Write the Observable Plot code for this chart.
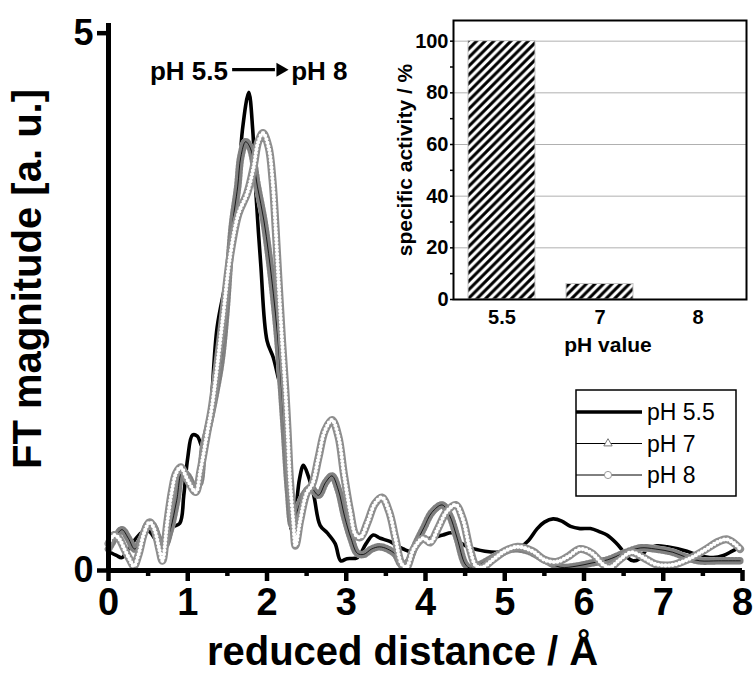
<!DOCTYPE html>
<html><head><meta charset="utf-8">
<script src="https://cdn.jsdelivr.net/npm/d3@7"></script>
<script src="https://cdn.jsdelivr.net/npm/@observablehq/plot@0.6"></script>
<style>
body{margin:0;background:#fff;font-family:"Liberation Sans",Arial,sans-serif}
#wrap{position:relative;width:755px;height:677px;overflow:hidden;background:#fff}
#wrap > svg{position:absolute}
</style></head><body><div id="wrap"></div>
<script>
// ---------- data ----------
const seriesNames = ["pH 5.5", "pH 7", "pH 8"];
const xTicks = [0, 1, 2, 3, 4, 5, 6, 7, 8];
const xMinor = [0.5, 1.5, 2.5, 3.5, 4.5, 5.5, 6.5, 7.5];
const yTicks = [0, 5];
const xTitle = "reduced distance / Å";
const yTitle = "FT magnitude [a. u.]";

// pH 5.5 (solid black)
const r55 = [0.02,0.1,0.17,0.25,0.35,0.45,0.52,0.6,0.68,0.75,0.8,0.9,0.95,1.0,1.06,1.12,1.19,1.24,1.29,1.37,1.5,1.63,1.69,1.77,1.82,1.85,1.92,2.0,2.08,2.14,2.21,2.25,2.31,2.36,2.41,2.46,2.52,2.59,2.67,2.76,2.86,2.93,3.01,3.14,3.25,3.34,3.43,3.55,3.64,3.72,3.82,3.97,4.12,4.22,4.34,4.44,4.57,4.75,4.9,5.05,5.2,5.3,5.41,5.5,5.61,5.72,5.83,5.95,6.08,6.2,6.29,6.4,6.46,6.55,6.62,6.7,6.8,6.92,7.05,7.3,7.45,7.63,7.76,7.87,7.95];
const v55 = [0.17,0.14,0.12,0.2,0.3,0.37,0.36,0.28,0.22,0.33,0.40,0.44,0.7,1.05,1.26,1.25,1.14,1.3,1.52,2.26,2.77,3.47,4.1,4.45,4.1,3.63,2.86,2.14,1.98,1.8,1.58,1.0,0.38,0.55,0.85,0.98,0.88,0.7,0.42,0.35,0.25,0.09,0.11,0.12,0.25,0.33,0.3,0.27,0.23,0.2,0.18,0.28,0.31,0.33,0.35,0.26,0.21,0.18,0.17,0.19,0.22,0.28,0.39,0.45,0.48,0.46,0.41,0.39,0.39,0.36,0.33,0.26,0.21,0.12,0.09,0.11,0.2,0.23,0.22,0.18,0.14,0.12,0.14,0.18,0.21];

// pH 7 (triangles)
const r7 = [0.0,0.08,0.17,0.25,0.33,0.42,0.5,0.56,0.63,0.7,0.78,0.86,0.93,1.0,1.08,1.14,1.2,1.28,1.35,1.42,1.48,1.56,1.63,1.67,1.73,1.79,1.88,1.96,2.02,2.08,2.13,2.17,2.22,2.27,2.32,2.38,2.46,2.55,2.65,2.74,2.82,2.9,2.98,3.06,3.14,3.22,3.32,3.42,3.52,3.62,3.7,3.78,3.88,3.98,4.08,4.21,4.3,4.4,4.5,4.57,4.7,4.9,5.1,5.3,5.5,5.7,5.9,6.1,6.3,6.5,6.71,6.9,7.12,7.3,7.46,7.7,7.97];
const v7 = [0.2,0.3,0.38,0.3,0.2,0.3,0.43,0.42,0.3,0.22,0.38,0.65,0.92,0.88,0.78,0.8,1.15,1.4,1.65,1.95,2.39,3.19,3.57,3.85,3.99,3.93,3.57,3.26,2.95,2.58,2.21,1.83,1.3,0.75,0.42,0.55,0.7,0.77,0.7,0.82,0.88,0.75,0.5,0.3,0.16,0.15,0.2,0.22,0.2,0.15,0.05,0.08,0.25,0.4,0.54,0.61,0.52,0.3,0.06,0.02,0.06,0.14,0.2,0.18,0.1,0.03,0.04,0.07,0.1,0.16,0.21,0.2,0.17,0.12,0.09,0.09,0.09];

// pH 8 (circles)
const r8 = [0.0,0.07,0.13,0.2,0.27,0.32,0.38,0.45,0.52,0.58,0.64,0.68,0.74,0.8,0.85,0.91,1.0,1.1,1.16,1.25,1.3,1.35,1.44,1.54,1.64,1.75,1.83,1.89,1.95,2.02,2.07,2.11,2.15,2.19,2.23,2.26,2.29,2.33,2.36,2.42,2.5,2.57,2.65,2.73,2.82,2.9,2.97,3.05,3.12,3.18,3.27,3.36,3.45,3.54,3.62,3.7,3.76,3.85,3.97,4.06,4.15,4.27,4.38,4.47,4.56,4.64,4.72,4.85,5.0,5.16,5.35,5.5,5.65,5.8,5.95,6.1,6.25,6.33,6.45,6.6,6.75,6.9,7.1,7.3,7.5,7.7,7.8,7.9,7.97];
const v8 = [0.25,0.33,0.3,0.2,0.1,0.04,0.15,0.35,0.45,0.38,0.2,0.09,0.44,0.74,0.9,0.96,0.84,0.73,0.93,1.3,1.5,1.77,2.33,2.95,3.32,3.51,3.75,3.99,4.07,3.94,3.63,3.17,2.64,2.14,1.7,1.3,0.84,0.47,0.23,0.47,0.72,0.8,1.05,1.3,1.40,1.25,0.9,0.55,0.33,0.31,0.45,0.62,0.68,0.55,0.3,0.06,0.03,0.2,0.3,0.26,0.38,0.55,0.61,0.48,0.2,0.04,0.03,0.1,0.18,0.22,0.18,0.1,0.08,0.13,0.2,0.16,0.05,0.03,0.1,0.17,0.12,0.06,0.05,0.1,0.18,0.27,0.29,0.25,0.2];

// inset bar chart
const phCats = ["5.5", "7", "8"];
const activity = [100, 6, 0];
const insetYTicks = [0, 20, 40, 60, 80, 100];
const insetYMinor = [10, 30, 50, 70, 90];
const insetYTitle = "specific activity / %";
const insetXTitle = "pH value";

// ---------- tables ----------
const toRows = (rs, vs) => rs.map((r, i) => ({r, v: vs[i]}));
const d55 = toRows(r55, v55), d7 = toRows(r7, v7), d8 = toRows(r8, v8);
const bars = phCats.map((ph, i) => ({ph, act: activity[i]}));

const FONT = "'Liberation Sans', Arial, sans-serif";
const wrap = document.getElementById("wrap");
const lineOpts = {x: "r", y: "v", curve: "catmull-rom"};
const fmt = d => String(d);

// ---------- main chart ----------
const main = Plot.plot({
  width: 755, height: 677,
  marginTop: 23, marginBottom: 107, marginLeft: 108, marginRight: 13,
  style: {fontFamily: FONT, background: "white", color: "black", overflow: "visible"},
  x: {domain: [0, 8], axis: null},
  y: {domain: [0, 5.09], axis: null},
  marks: [
    Plot.line(d55, {...lineOpts, stroke: "black", strokeWidth: 3.6}),
    Plot.line(d7, {...lineOpts, stroke: "#dcdcdc", strokeWidth: 7.5}),
    Plot.line(d7, {...lineOpts, stroke: "#808080", strokeWidth: 7.5, strokeDasharray: "1 2.4"}),
    Plot.line(d7, {...lineOpts, stroke: "black", strokeWidth: 0.8}),
    Plot.line(d8, {...lineOpts, stroke: "#8e8e8e", strokeWidth: 8}),
    Plot.line(d8, {...lineOpts, stroke: "white", strokeWidth: 4.2, strokeDasharray: "0 3.6", strokeLinecap: "round"}),
    Plot.ruleX([0], {y1: 0, y2: 5.09, strokeWidth: 5}),
    Plot.ruleY([0], {strokeWidth: 5}),
    Plot.axisX(xTicks, {tickSize: 11, strokeWidth: 4.5, fontSize: 38, fontWeight: "bold", tickPadding: 7, tickFormat: fmt, label: null}),
    Plot.axisX(xMinor, {tickSize: 6, strokeWidth: 4.5, text: null, label: null}),
    Plot.axisY(yTicks, {tickSize: 11, strokeWidth: 4.5, fontSize: 36, fontWeight: "bold", tickPadding: 4, tickFormat: fmt, label: null}),
    Plot.text([xTitle], {text: d => d, frameAnchor: "bottom", dy: 82, dx: -23, lineAnchor: "middle", textAnchor: "middle", fontSize: 40, fontWeight: "bold"}),
    Plot.text([yTitle], {text: d => d, frameAnchor: "left", dx: -80, dy: -18, rotate: -90, lineAnchor: "middle", textAnchor: "middle", fontSize: 40, fontWeight: "bold"}),
    // annotation pH 5.5 -> pH 8
    Plot.text([seriesNames[0]], {text: d => d, x: 1.015, y: 4.64, fontSize: 26, fontWeight: "bold"}),
    Plot.text([seriesNames[2]], {text: d => d, x: 2.66, y: 4.64, fontSize: 26, fontWeight: "bold"}),
    Plot.link([0], {x1: 1.56, x2: 2.1, y1: 4.66, y2: 4.66, strokeWidth: 3.2}),
    Plot.dot([0], {x: 2.17, y: 4.66, symbol: "triangle", r: 5.2, rotate: 90, fill: "black", stroke: "none"})
  ]
});
main.style.left = "0px"; main.style.top = "0px";
wrap.appendChild(main);

// ---------- inset ----------
const inset = Plot.plot({
  width: 375, height: 356,
  marginLeft: 73, marginRight: 9, marginTop: 20, marginBottom: 57,
  style: {fontFamily: FONT, background: "transparent", color: "black", overflow: "visible"},
  x: {type: "band", domain: phCats, paddingInner: 0.32, paddingOuter: 0.15, axis: null},
  y: {domain: [0, 108], axis: null},
  marks: [
    Plot.ruleY(insetYTicks.filter(d => d > 0), {stroke: "#b0b0b0", strokeWidth: 1}),
    Plot.barY(bars, {x: "ph", y: "act", fill: "url(#hatch)", stroke: "#c4c4c4", strokeWidth: 1}),
    Plot.frame({stroke: "black", strokeWidth: 2}),
    Plot.axisY(insetYTicks, {tickSize: 3, strokeWidth: 1.5, fontSize: 20, fontWeight: "bold", tickPadding: 2, tickFormat: fmt, label: null}),
    Plot.axisY(insetYMinor, {tickSize: 3, strokeWidth: 1.5, text: null, label: null}),
    Plot.axisX(phCats, {tickSize: 0, fontSize: 20, fontWeight: "bold", tickPadding: 10, label: null}),
    Plot.text([insetYTitle], {text: d => d, frameAnchor: "left", dx: -48, rotate: -90, lineAnchor: "middle", textAnchor: "middle", fontSize: 21, fontWeight: "bold"}),
    Plot.text([insetXTitle], {text: d => d, frameAnchor: "bottom", dx: 8, dy: 46, lineAnchor: "middle", textAnchor: "middle", fontSize: 21, fontWeight: "bold"})
  ]
});
{
  const defs = d3.select(inset).insert("defs", ":first-child");
  const s = 8.6;
  const pat = defs.append("pattern").attr("id", "hatch").attr("patternUnits", "userSpaceOnUse")
    .attr("width", s).attr("height", s);
  pat.append("rect").attr("width", s).attr("height", s).attr("fill", "white");
  pat.append("path").attr("d", `M-2,2 L2,-2 M0,${s} L${s},0 M${s-2},${s+2} L${s+2},${s-2}`)
    .attr("stroke", "black").attr("stroke-width", 3);
}
inset.style.left = "380px"; inset.style.top = "0px";
wrap.appendChild(inset);

// ---------- legend ----------
const lg = d3.create("svg").attr("width", 180).attr("height", 120)
  .style("left", "570px").style("top", "385px").style("position", "absolute");
lg.append("rect").attr("x", 6).attr("y", 5).attr("width", 160).attr("height", 106)
  .attr("fill", "white").attr("stroke", "black").attr("stroke-width", 1.5);
const rowsY = [27, 58.5, 90];
seriesNames.forEach((name, i) => {
  const y = rowsY[i];
  lg.append("line").attr("x1", 6).attr("x2", 72).attr("y1", y).attr("y2", y)
    .attr("stroke", "black").attr("stroke-width", i === 0 ? 3.6 : 1);
  if (i === 1) {
    lg.append("path").attr("d", d3.symbol(d3.symbolTriangle, 30)()).attr("transform", `translate(38,${y})`)
      .attr("fill", "white").attr("stroke", "#777").attr("stroke-width", 1);
  }
  if (i === 2) {
    lg.append("circle").attr("cx", 38).attr("cy", y).attr("r", 3.6)
      .attr("fill", "white").attr("stroke", "#999").attr("stroke-width", 1);
  }
  lg.append("text").attr("x", 77).attr("y", y).attr("dy", "0.36em")
    .attr("font-family", FONT).attr("font-size", 23).text(name);
});
wrap.appendChild(lg.node());
</script></body></html>
